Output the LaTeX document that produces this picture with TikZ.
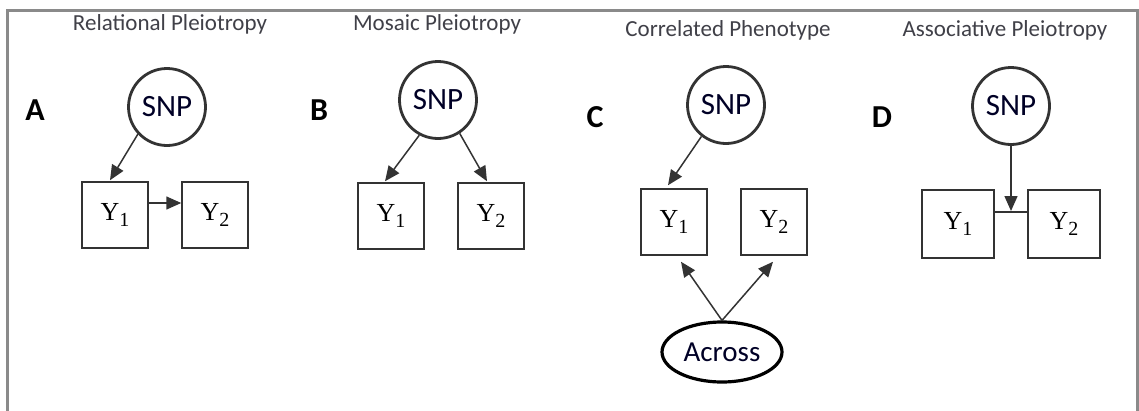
\documentclass[tikz,border=0pt]{standalone}
\usepackage{fontspec}
\setmainfont{Carlito}
\newfontfamily\serifY{Liberation Serif}
\usetikzlibrary{shapes.geometric,arrows.meta,calc}
\definecolor{framegray}{HTML}{8A8A8A}
\definecolor{titlegray}{HTML}{404048}
\definecolor{linegray}{HTML}{333333}
\newcommand{\Yl}[1]{{\serifY\fontsize{26}{26}\selectfont Y\raisebox{-0.24em}{\fontsize{20}{20}\selectfont #1}}}
\tikzset{
  frameline/.style={draw=framegray,line width=3pt},
  ttl/.style={text=titlegray,font=\fontsize{23}{23}\selectfont,inner sep=0pt},
  letter/.style={font=\fontsize{32}{32}\selectfont\bfseries,inner sep=0pt},
  snp/.style={circle,draw=linegray,line width=2.8pt,minimum size=77pt,inner sep=0pt,text=black!85!blue,font=\fontsize{31}{31}\selectfont},
  ybox/.style={rectangle,draw=linegray,line width=1.5pt,minimum width=66pt,minimum height=66pt,inner sep=0pt},
  ovl/.style={ellipse,draw=black,line width=3.2pt,minimum width=120pt,minimum height=60pt,inner sep=0pt,text=black!85!blue,font=\fontsize{29}{29}\selectfont},
  arr/.style={draw=linegray,line width=1.5pt,-{Triangle[length=15pt,width=13pt]}},
  plain/.style={draw=linegray,line width=1.5pt}
}
\begin{document}
\begin{tikzpicture}[x=1pt,y=-1pt]
\useasboundingbox (0,0) rectangle (1139,410);
\fill[white] (0,0) rectangle (1139,410);
\draw[frameline] (7.5,412) -- (7.5,10) -- (1137.5,10) -- (1137.5,412);

% Panel A
\node[ttl] (tA) at (170,24) {Relational Pleiotropy};
\node[letter] (lA) at (35,110) {A};
\node[snp] (snpA) at (167,107) {SNP};
\node[ybox] (y1A) at (115,215) {\Yl{1}};
\node[ybox] (y2A) at (215,215) {\Yl{2}};
\draw[arr] (snpA.223) -- ($(y1A.north)+(-5,-1)$);
\draw[arr] ($(y1A.east)+(0,-12)$) coordinate (aa) -- (aa -| y2A.west);

% Panel B
\node[ttl] (tB) at (437,24) {Mosaic Pleiotropy};
\node[letter] (lB) at (319,110) {B};
\node[snp] (snpB) at (438,100) {SNP};
\node[ybox] (y1B) at (391,216) {\Yl{1}};
\node[ybox] (y2B) at (491,216) {\Yl{2}};
\draw[arr] (snpB.242) -- ($(y1B.north)+(-6,-1)$);
\draw[arr] (snpB.303) -- ($(y2B.north)+(-4,-1)$);

% Panel C
\node[ttl] (tC) at (728,30) {Correlated Phenotype};
\node[letter] (lC) at (595,117) {C};
\node[snp] (snpC) at (726,105) {SNP};
\node[ybox] (y1C) at (674,222) {\Yl{1}};
\node[ybox] (y2C) at (774,222) {\Yl{2}};
\node[ovl] (acr) at (722,352) {Across};
\draw[arr] (snpC.232) -- ($(y1C.north)+(-6,-3)$);
\draw[arr] (acr.north) -- ($(y1C.south)+(7,6)$);
\draw[arr] (acr.north) -- ($(y2C.south)+(-1,6)$);

% Panel D
\node[ttl] (tD) at (1005,30) {Associative Pleiotropy};
\node[letter] (lD) at (882,117) {D};
\node[snp] (snpD) at (1011,106) {SNP};
\node[ybox,minimum width=72pt,minimum height=68pt] (y1D) at (958,224) {\Yl{1}};
\node[ybox,minimum width=72pt,minimum height=68pt] (y2D) at (1064,224) {\Yl{2}};
\draw[plain] ($(y1D.east)+(0,-12)$) coordinate (d1) -- (d1 -| y2D.west) coordinate (d2);
\coordinate (dm) at ($(d1)!0.5!(d2)$);
\draw[arr] (snpD.south) -- ($(dm)+(0,-1)$);
\end{tikzpicture}
\end{document}
